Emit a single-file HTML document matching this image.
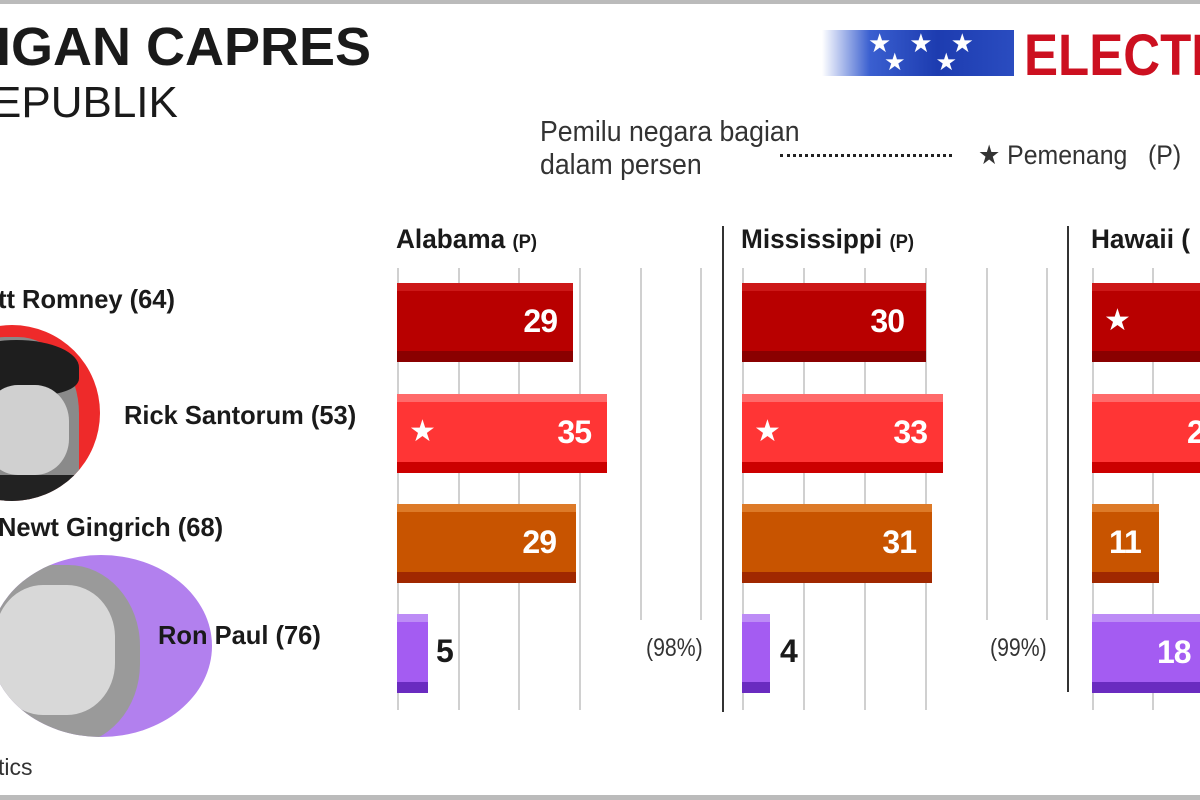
<!DOCTYPE html>
<html><head><meta charset="utf-8"><style>
body{margin:0;width:1200px;height:800px;background:#fff;position:relative;overflow:hidden;font-family:"Liberation Sans",sans-serif;color:#1a1a1a}
div{position:absolute}
.t{white-space:nowrap;transform-origin:left top}
.g{width:2px;background:#d0d0d0}
.bar{height:79px}
.bar .hi{position:absolute;left:0;right:0;top:0;height:8px}
.bar .lo{position:absolute;left:0;right:0;bottom:0;height:11px}
.v{color:#fff;font-weight:bold;font-size:32px;top:20px;white-space:nowrap;letter-spacing:-1px}
.hd{font-size:27px;font-weight:bold;top:224px;transform:scaleX(0.97)}
.hd small{font-size:19px}
.nm{font-size:26px;font-weight:bold;transform:scaleX(0.98)}
.r{background:#b80000}.r .hi{background:#cc1818}.r .lo{background:#8a0000}
.s{background:#ff3535}.s .hi{background:#ff6a6a}.s .lo{background:#cc0000}
.n{background:#c85400}.n .hi{background:#dd7a28}.n .lo{background:#a02800}
.p{background:#a45cf2}.p .hi{background:#bd8cf6}.p .lo{background:#6a2bc0}
.st{color:#fff;font-size:30px;top:20px}
.circ{border-radius:50%;overflow:hidden}
</style></head><body>
<div style="left:0;top:0;width:1200px;height:4px;background:#bbb"></div>
<div style="left:0;top:795px;width:1200px;height:5px;background:#bbb"></div>

<div class="t" style="left:-4px;top:16px;font-size:54px;font-weight:bold;transform:scaleX(1.0)">IGAN CAPRES</div>
<div class="t" style="left:-8px;top:78px;font-size:44px;transform:scaleX(1.0)">EPUBLIK</div>

<div style="left:822px;top:30px;width:192px;height:46px;background:linear-gradient(90deg,#fff 0%,#3a5fd0 25%,#1d3cb0 60%,#2a4cc0 100%)"></div>
<div class="t" style="left:868px;top:28px;color:#fff;font-size:26px;letter-spacing:18px">★★★</div>
<div class="t" style="left:884px;top:48px;color:#fff;font-size:24px;letter-spacing:30px">★★</div>
<div class="t" style="left:1024px;top:22px;color:#cc1020;font-size:58px;font-weight:bold;transform:scaleX(0.88)">ELECTI</div>

<div class="t" style="left:540px;top:116px;font-size:29px;line-height:33px;color:#333;transform:scaleX(0.92)">Pemilu negara bagian<br>dalam persen</div>
<div style="left:780px;top:154px;width:172px;border-top:3px dotted #222"></div>
<div class="t" style="left:978px;top:140px;font-size:27px;color:#333;transform:scaleX(0.92)">★ Pemenang &nbsp;&nbsp;(P)</div>

<div style="left:722px;top:226px;width:2px;height:486px;background:#333"></div>
<div style="left:1067px;top:226px;width:2px;height:466px;background:#333"></div>

<div class="g" style="left:397px;top:268px;height:442px"></div>
<div class="g" style="left:458px;top:268px;height:442px"></div>
<div class="g" style="left:518px;top:268px;height:442px"></div>
<div class="g" style="left:579px;top:268px;height:442px"></div>
<div class="g" style="left:640px;top:268px;height:352px"></div>
<div class="g" style="left:700px;top:268px;height:352px"></div>
<div class="g" style="left:742px;top:268px;height:442px"></div>
<div class="g" style="left:803px;top:268px;height:442px"></div>
<div class="g" style="left:864px;top:268px;height:442px"></div>
<div class="g" style="left:925px;top:268px;height:442px"></div>
<div class="g" style="left:986px;top:268px;height:352px"></div>
<div class="g" style="left:1046px;top:268px;height:352px"></div>
<div class="g" style="left:1092px;top:268px;height:442px"></div>
<div class="g" style="left:1152px;top:268px;height:442px"></div>

<div class="t hd" style="left:396px">Alabama <small>(P)</small></div>
<div class="t hd" style="left:741px">Mississippi <small>(P)</small></div>
<div class="t hd" style="left:1091px">Hawaii (</div>

<div class="bar r" style="left:397px;top:283px;width:176px"><div class="hi"></div><div class="lo"></div><div class="v" style="right:16px">29</div></div>
<div class="bar s" style="left:397px;top:394px;width:210px"><div class="hi"></div><div class="lo"></div><div class="st" style="left:12px">★</div><div class="v" style="right:16px">35</div></div>
<div class="bar n" style="left:397px;top:504px;width:179px"><div class="hi"></div><div class="lo"></div><div class="v" style="right:20px">29</div></div>
<div class="bar p" style="left:397px;top:614px;width:31px"><div class="hi"></div><div class="lo"></div></div>
<div class="t" style="left:436px;top:633px;font-size:32px;font-weight:bold">5</div>
<div class="t" style="left:646px;top:634px;font-size:25px;color:#333;transform:scaleX(0.85)">(98%)</div>

<div class="bar r" style="left:742px;top:283px;width:184px"><div class="hi"></div><div class="lo"></div><div class="v" style="right:22px">30</div></div>
<div class="bar s" style="left:742px;top:394px;width:201px"><div class="hi"></div><div class="lo"></div><div class="st" style="left:12px">★</div><div class="v" style="right:16px">33</div></div>
<div class="bar n" style="left:742px;top:504px;width:190px"><div class="hi"></div><div class="lo"></div><div class="v" style="right:16px">31</div></div>
<div class="bar p" style="left:742px;top:614px;width:28px"><div class="hi"></div><div class="lo"></div></div>
<div class="t" style="left:780px;top:633px;font-size:32px;font-weight:bold">4</div>
<div class="t" style="left:990px;top:634px;font-size:25px;color:#333;transform:scaleX(0.85)">(99%)</div>

<div class="bar r" style="left:1092px;top:283px;width:120px"><div class="hi"></div><div class="lo"></div><div class="st" style="left:12px">★</div></div>
<div class="bar s" style="left:1092px;top:394px;width:120px"><div class="hi"></div><div class="lo"></div><div class="v" style="left:95px">2</div></div>
<div class="bar n" style="left:1092px;top:504px;width:67px"><div class="hi"></div><div class="lo"></div><div class="v" style="left:17px">11</div></div>
<div class="bar p" style="left:1092px;top:614px;width:120px"><div class="hi"></div><div class="lo"></div><div class="v" style="left:65px">18</div></div>

<div class="circ" style="left:-76px;top:325px;width:176px;height:176px;background:#ee2a2a">
  <div style="left:20px;top:12px;width:135px;height:170px;border-radius:45% 45% 10% 10%;background:#8a8a8a"></div>
  <div style="left:30px;top:15px;width:125px;height:55px;border-radius:50% 50% 30% 30%;background:#1e1e1e"></div>
  <div style="left:60px;top:60px;width:85px;height:90px;border-radius:40%;background:#d0d0d0"></div>
  <div style="left:40px;top:150px;width:110px;height:30px;background:#222"></div>
</div>
<div class="circ" style="left:-10px;top:555px;width:222px;height:182px;background:#b280ee">
  <div style="left:-10px;top:10px;width:160px;height:180px;border-radius:45%;background:#9a9a9a"></div>
  <div style="left:5px;top:30px;width:120px;height:130px;border-radius:40%;background:#d8d8d8"></div>
</div>

<div class="t nm" style="left:-2px;top:284px">tt Romney (64)</div>
<div class="t nm" style="left:124px;top:400px">Rick Santorum (53)</div>
<div class="t nm" style="left:-2px;top:512px">Newt Gingrich (68)</div>
<div class="t nm" style="left:158px;top:620px">Ron Paul (76)</div>
<div class="t" style="left:-2px;top:754px;font-size:23px;color:#333">tics</div>
</body></html>
